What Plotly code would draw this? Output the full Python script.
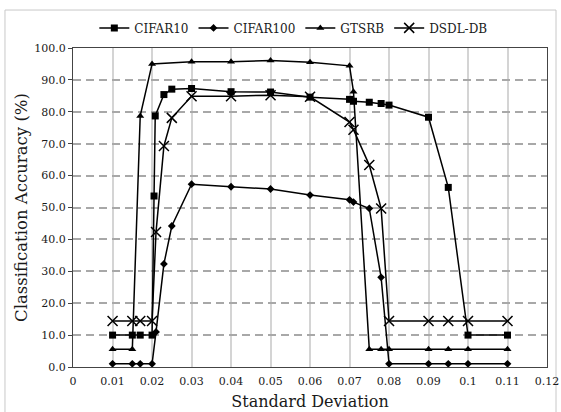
import plotly.graph_objects as go

# ---- data ----
cifar10_x = [0.01, 0.015, 0.017, 0.02, 0.0205, 0.0208, 0.023, 0.025, 0.03, 0.04, 0.05, 0.06,
             0.07, 0.071, 0.075, 0.078, 0.08, 0.09, 0.095, 0.1, 0.11]
cifar10_y = [10.0, 10.0, 10.0, 10.0, 53.6, 78.7, 85.4, 87.1, 87.3, 86.3, 86.2, 84.6,
             83.9, 83.3, 83.0, 82.6, 82.1, 78.3, 56.3, 10.0, 10.0]

cifar100_x = [0.01, 0.015, 0.017, 0.02, 0.021, 0.023, 0.025, 0.03, 0.04, 0.05, 0.06,
              0.07, 0.071, 0.075, 0.078, 0.08, 0.09, 0.095, 0.1, 0.11]
cifar100_y = [1.0, 1.0, 1.0, 1.0, 11.0, 32.3, 44.2, 57.3, 56.5, 55.8, 53.9,
              52.4, 51.7, 49.7, 28.1, 1.0, 1.0, 1.0, 1.0, 1.0]

gtsrb_x = [0.01, 0.015, 0.017, 0.02, 0.03, 0.04, 0.05, 0.06, 0.07, 0.071,
           0.075, 0.078, 0.08, 0.09, 0.095, 0.1, 0.11]
gtsrb_y = [5.6, 5.6, 78.7, 95.0, 95.7, 95.7, 96.1, 95.5, 94.4, 86.3,
           5.6, 5.6, 5.6, 5.6, 5.6, 5.6, 5.6]

dsdl_x = [0.01, 0.015, 0.017, 0.02, 0.021, 0.023, 0.025, 0.03, 0.04, 0.05, 0.06,
          0.07, 0.071, 0.075, 0.078, 0.08, 0.09, 0.095, 0.1, 0.11]
dsdl_y = [14.4, 14.4, 14.4, 14.4, 42.3, 69.3, 78.1, 84.9, 84.9, 85.2, 84.7,
          76.8, 74.4, 63.3, 49.7, 14.4, 14.4, 14.4, 14.4, 14.4]

x_tickvals = [0, 0.01, 0.02, 0.03, 0.04, 0.05, 0.06, 0.07, 0.08, 0.09, 0.1, 0.11, 0.12]
x_ticktext = ["0", "0.01", "0.02", "0.03", "0.04", "0.05", "0.06", "0.07", "0.08",
              "0.09", "0.1", "0.11", "0.12"]
y_tickvals = [0, 10, 20, 30, 40, 50, 60, 70, 80, 90, 100]

FONT = "DejaVu Serif"
INK = "#1a1a1a"

fig = go.Figure()
series = [
    ("CIFAR10", cifar10_x, cifar10_y, dict(symbol="square", size=7)),
    ("CIFAR100", cifar100_x, cifar100_y, dict(symbol="diamond", size=6)),
    ("GTSRB", gtsrb_x, gtsrb_y, dict(symbol="triangle-up", size=7)),
    ("DSDL-DB", dsdl_x, dsdl_y, dict(symbol="x-thin-open", size=10,
                                     line=dict(width=1.5, color="black"))),
]
for name, xs, ys, mk in series:
    fig.add_trace(go.Scatter(
        x=xs, y=ys, name=name, mode="lines+markers",
        line=dict(color="black", width=1.5),
        marker=dict(color="black", **mk),
    ))

fig.update_layout(
    width=561, height=412,
    margin=dict(l=73, r=14, t=48, b=45),
    paper_bgcolor="white", plot_bgcolor="white",
    font=dict(family=FONT, size=11, color=INK),
    showlegend=True,
    legend=dict(orientation="h", x=0.045, y=1.063, xanchor="left", yanchor="middle",
                font=dict(family=FONT, size=12, color=INK),
                bgcolor="rgba(0,0,0,0)", itemwidth=30, tracegroupgap=0),
    xaxis=dict(range=[-0.00002, 0.12], tickvals=x_tickvals, ticktext=x_ticktext,
               showgrid=True, gridcolor="#d4d4d4", gridwidth=1.5,
               showline=True, linecolor="#444", linewidth=1.2, mirror=True,
               ticks="", zeroline=False, ticklabelstandoff=4, automargin=False,
               title=dict(text="Standard Deviation", font=dict(family=FONT, size=16, color=INK),
                          standoff=8),
               tickfont=dict(family=FONT, size=11, color=INK)),
    yaxis=dict(range=[0, 100], tickvals=y_tickvals, tickformat=".1f",
               showgrid=True, gridcolor="#a8a8a8", gridwidth=1.5, griddash="8px,5px",
               showline=True, linecolor="#444", linewidth=1.2, mirror=True,
               ticks="outside", ticklen=4, tickcolor="#444", zeroline=False,
               automargin=False,
               title=dict(text="Classification Accuracy (%)",
                          font=dict(family=FONT, size=16.5, color=INK), standoff=2),
               tickfont=dict(family=FONT, size=11, color=INK)),
    shapes=[dict(type="rect", xref="paper", yref="paper",
                 x0=-0.1435, x1=1.019, y0=-0.15, y1=1.119,
                 line=dict(color="#c8c8c8", width=1), layer="below")],
)

fig.write_html("out.html", config={"displayModeBar": False},
               post_script="document.body.style.margin='0';document.body.style.overflow='hidden';")
